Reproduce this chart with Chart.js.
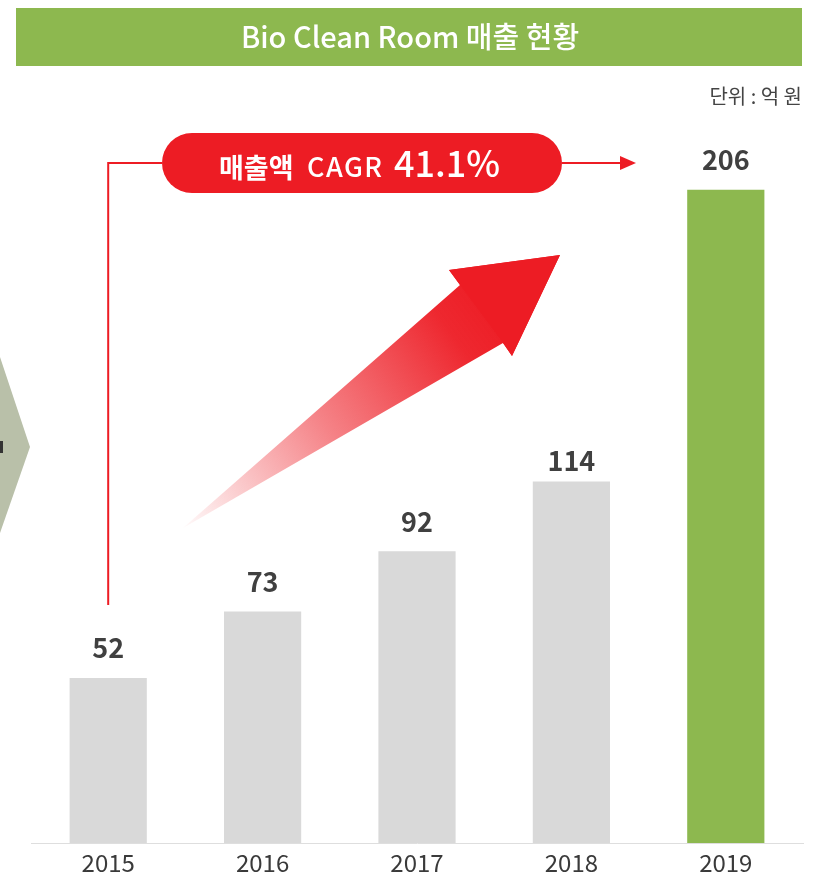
<!DOCTYPE html>
<html><head><meta charset="utf-8">
<script src="https://cdn.jsdelivr.net/npm/chart.js@4/dist/chart.umd.min.js"></script>
<style>html,body{margin:0;padding:0;background:#fff}#wrap{width:820px;height:876px;position:relative}</style>
</head><body><div id="wrap"><canvas id="c" width="820" height="876"></canvas></div>
<script>
const categories = ['2015','2016','2017','2018','2019'];
const sales = [52, 73, 92, 114, 206];
const titleText = 'Bio Clean Room 매출 현황';
const unitText = '단위 : 억 원';
const cagrWord = '매출액';
const cagrLabel = 'CAGR';
const cagrValue = '41.1%';

const RED = '#ed1c24', GREEN = '#8db84f', GREY = '#d9d9d9';
const KR = '"Noto Sans CJK KR", "Noto Sans", sans-serif';

const decor = {
  id: 'decor',
  beforeDraw(chart) {
    const ctx = chart.ctx;
    ctx.save();
    ctx.fillStyle = GREEN;
    ctx.fillRect(16, 8, 786, 58);
    ctx.fillStyle = '#fff';
    ctx.font = '500 29px ' + KR;
    ctx.textAlign = 'center'; ctx.textBaseline = 'middle';
    ctx.fillText(titleText, 410, 37);
    ctx.fillStyle = '#444';
    ctx.font = '400 20px ' + KR;
    ctx.textAlign = 'right';
    ctx.fillText(unitText, 802, 96);
    ctx.fillStyle = '#b9c0a9';
    ctx.beginPath();
    ctx.moveTo(0, 357); ctx.lineTo(30, 447); ctx.lineTo(0, 533); ctx.closePath();
    ctx.fill();
    ctx.fillStyle = '#333';
    ctx.fillRect(0, 441, 3, 12);
    ctx.restore();
  },
  afterDatasetsDraw(chart) {
    const ctx = chart.ctx;
    const meta = chart.getDatasetMeta(0);
    ctx.save();
    ctx.fillStyle = '#404040';
    ctx.font = '700 27px ' + KR;
    ctx.textAlign = 'center'; ctx.textBaseline = 'middle';
    meta.data.forEach((bar, i) => {
      const off = i === 3 ? 21 : 30;
      ctx.fillText(String(sales[i]), bar.x, bar.y - off);
    });
    const g = ctx.createLinearGradient(183, 528, 500, 300);
    g.addColorStop(0, 'rgba(237,28,36,0.02)');
    g.addColorStop(0.45, 'rgba(237,28,36,0.55)');
    g.addColorStop(0.85, 'rgba(237,28,36,0.95)');
    g.addColorStop(1, RED);
    ctx.fillStyle = g;
    ctx.beginPath();
    ctx.moveTo(183, 528);
    ctx.lineTo(460, 285);
    ctx.lineTo(449, 270);
    ctx.lineTo(560, 255);
    ctx.lineTo(512, 356);
    ctx.lineTo(503, 343);
    ctx.closePath();
    ctx.fill();
    ctx.fillStyle = RED;
    ctx.beginPath();
    ctx.moveTo(449, 270); ctx.lineTo(560, 255); ctx.lineTo(512, 356); ctx.lineTo(503, 343); ctx.lineTo(460, 285);
    ctx.closePath(); ctx.fill();
    const x0 = meta.data[0].x;
    ctx.strokeStyle = RED; ctx.lineWidth = 2;
    ctx.beginPath();
    ctx.moveTo(x0, 605); ctx.lineTo(x0, 163); ctx.lineTo(162, 163);
    ctx.moveTo(562, 163); ctx.lineTo(622, 163);
    ctx.stroke();
    ctx.fillStyle = RED;
    ctx.beginPath();
    ctx.moveTo(620, 156); ctx.lineTo(636, 163); ctx.lineTo(620, 170); ctx.closePath(); ctx.fill();
    const px = 162, py = 133, pw = 400, ph = 60, r = 30;
    ctx.beginPath();
    ctx.moveTo(px + r, py);
    ctx.lineTo(px + pw - r, py);
    ctx.arc(px + pw - r, py + r, r, -Math.PI / 2, Math.PI / 2);
    ctx.lineTo(px + r, py + ph);
    ctx.arc(px + r, py + r, r, Math.PI / 2, Math.PI * 1.5);
    ctx.closePath();
    ctx.fill();
    ctx.fillStyle = '#fff';
    ctx.textAlign = 'left'; ctx.textBaseline = 'alphabetic';
    ctx.font = '600 27px ' + KR;
    ctx.fillText(cagrWord, 219, 178);
    ctx.font = '500 27px ' + KR;
    if ('letterSpacing' in ctx) ctx.letterSpacing = '1.5px';
    ctx.fillText(cagrLabel, 307, 177);
    if ('letterSpacing' in ctx) ctx.letterSpacing = '0px';
    ctx.font = '500 36px ' + KR;
    ctx.fillText(cagrValue, 394, 177);
    ctx.restore();
  }
};

new Chart(document.getElementById('c'), {
  type: 'bar',
  data: {
    labels: categories,
    datasets: [{
      data: sales,
      backgroundColor: (c) => c.dataIndex === sales.length - 1 ? GREEN : GREY,
      barPercentage: 0.5,
      categoryPercentage: 1.0,
      borderWidth: 0
    }]
  },
  options: {
    responsive: false,
    animation: false,
    layout: { padding: { left: 31, right: 17, top: 82, bottom: 0 } },
    plugins: { legend: { display: false }, tooltip: { enabled: false } },
    scales: {
      x: {
        grid: { display: false, drawTicks: false },
        border: { display: true, color: '#dedede', width: 1 },
        ticks: { color: '#3a3a3a', font: { family: KR, size: 24 }, padding: 5 },
        afterFit: (s) => { s.height = 33; }
      },
      y: {
        display: false,
        min: 0, max: 240,
        afterFit: (s) => { s.width = 0; }
      }
    }
  },
  plugins: [decor]
});
</script>
</body></html>
